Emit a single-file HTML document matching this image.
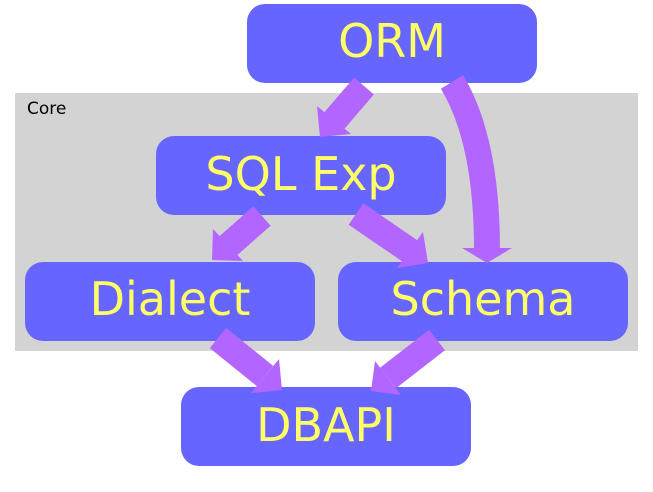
<!DOCTYPE html>
<html><head><style>body{margin:0;background:#fff}svg{display:block}</style></head><body>
<svg width="653" height="492" viewBox="0 0 653 492" xmlns="http://www.w3.org/2000/svg" font-family="DejaVu Sans, Liberation Sans, sans-serif">
<rect x="15" y="93" width="623" height="258" fill="#d3d3d3"/>
<text x="27" y="114" font-size="17" fill="#000">Core</text>
<g fill="#6666ff">
<rect x="247" y="4" width="290" height="79" rx="18"/>
<rect x="156" y="136" width="290" height="79" rx="18"/>
<rect x="25" y="262" width="290" height="79" rx="18"/>
<rect x="338" y="262" width="290" height="79" rx="18"/>
<rect x="181" y="387" width="290" height="79" rx="18"/>
</g>
<g fill="#ffff66" font-size="46" text-anchor="middle">
<text x="392" y="57">ORM</text>
<text x="301" y="190">SQL Exp</text>
<text x="170" y="315">Dialect</text>
<text x="483" y="315">Schema</text>
<text x="326" y="441">DBAPI</text>
</g>
<g stroke="#b266ff" stroke-width="26" fill="none">
<line x1="364" y1="86" x2="334" y2="121"/>
<path d="M452 82 Q487 140 487 250"/>
<line x1="262" y1="216" x2="228" y2="246"/>
<line x1="356" y1="214" x2="410" y2="251"/>
<line x1="218" y1="338" x2="265" y2="376"/>
<line x1="437" y1="340" x2="388" y2="378"/>
</g>
<g fill="#b266ff">
<polygon points="351,134 317,106 320,137"/>
<polygon points="462,248 512,248 487,263"/>
<polygon points="243,261 213,229 212,260"/>
<polygon points="397,268 423,232 428,263"/>
<polygon points="251,393 279,359 282,390"/>
<polygon points="401,395 375,361 371,391"/>
</g>
</svg>
</body></html>
